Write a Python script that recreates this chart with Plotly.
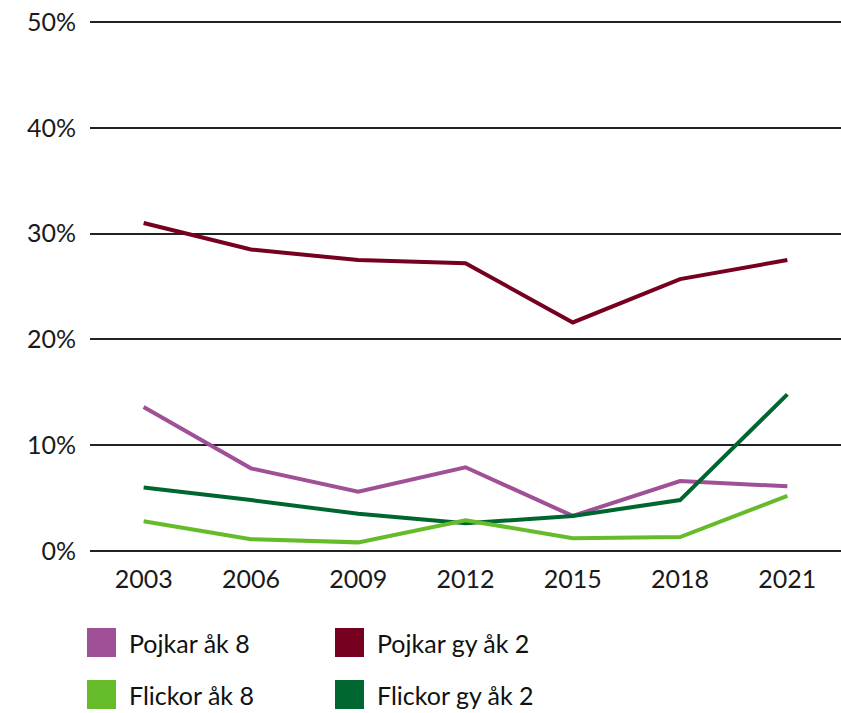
import plotly.graph_objects as go

years = ["2003", "2006", "2009", "2012", "2015", "2018", "2021"]
pojkar_ak8 = [13.6, 7.8, 5.6, 7.9, 3.3, 6.6, 6.1]
pojkar_gy2 = [31.0, 28.5, 27.5, 27.2, 21.6, 25.7, 27.5]
flickor_ak8 = [2.8, 1.1, 0.8, 2.9, 1.2, 1.3, 5.2]
flickor_gy2 = [6.0, 4.8, 3.5, 2.6, 3.3, 4.8, 14.8]
y_ticks = [0, 10, 20, 30, 40, 50]
y_ticktext = ["0%", "10%", "20%", "30%", "40%", "50%"]

series = [
    ("Pojkar åk 8", pojkar_ak8, "#a05096"),
    ("Flickor gy åk 2", flickor_gy2, "#00662f"),
    ("Flickor åk 8", flickor_ak8, "#66bb2b"),
    ("Pojkar gy åk 2", pojkar_gy2, "#75001f"),
]

W, H = 841, 713
ML, MR, MT, MB = 90, 0, 19, 159
PW, PH = W - ML - MR, H - MT - MB

def px_x(px):
    return (px - ML) / PW

def px_y(py):
    return (H - MB - py) / PH

fig = go.Figure()
for name, vals, col in series:
    fig.add_trace(go.Scatter(
        x=years, y=vals, mode="lines", name=name,
        line=dict(color=col, width=4), showlegend=False,
    ))

font = "Lato, 'Open Sans', sans-serif"

legend_items = [
    ("Pojkar åk 8", "#a05096", 87, 628),
    ("Pojkar gy åk 2", "#75001f", 335, 628),
    ("Flickor åk 8", "#66bb2b", 87, 680),
    ("Flickor gy åk 2", "#00662f", 335, 680),
]
shapes = []
annotations = []
for name, col, lx, ly in legend_items:
    shapes.append(dict(type="rect", xref="paper", yref="paper",
                       x0=px_x(lx), x1=px_x(lx + 29), y0=px_y(ly), y1=px_y(ly + 29),
                       fillcolor=col, line=dict(width=0)))
    annotations.append(dict(xref="paper", yref="paper", x=px_x(lx + 40), y=px_y(ly + 14.5),
                            text=name, showarrow=False, xanchor="left", yanchor="middle",
                            font=dict(family=font, size=25, color="#111111")))

fig.update_layout(
    width=W, height=H,
    margin=dict(l=ML, r=MR, t=MT, b=MB),
    paper_bgcolor="white", plot_bgcolor="white",
    font=dict(family=font, size=25, color="#1a1a1a"),
    hovermode=False,
    xaxis=dict(type="category", range=[-0.5, 6.5], showgrid=False, showline=False,
               zeroline=False, ticks="", ticklabelstandoff=8,
               tickfont=dict(size=25, color="#1a1a1a")),
    yaxis=dict(range=[-0.3, 50.3], tickvals=y_ticks, ticktext=y_ticktext,
               showgrid=True, gridcolor="#222222", gridwidth=2, zeroline=False,
               showline=False, ticks="", ticklabelstandoff=13,
               ticklabeloverflow="allow",
               tickfont=dict(size=25, color="#1a1a1a")),
    shapes=shapes, annotations=annotations,
)

fig.write_html("out.html",
               config={"displayModeBar": False},
               post_script="document.body.style.margin='0';document.body.style.overflow='hidden';")
